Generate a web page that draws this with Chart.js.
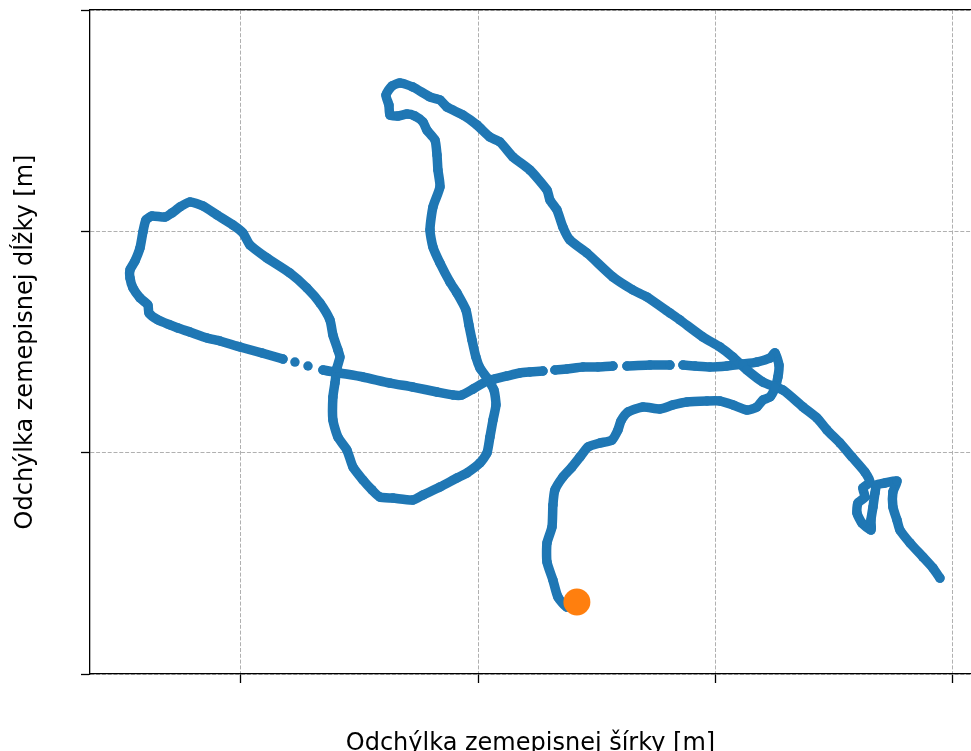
<!DOCTYPE html>
<html lang="sk">
<head>
<meta charset="utf-8">
<title>Trasa</title>
<script src="https://cdn.jsdelivr.net/npm/chart.js@4.4.1/dist/chart.umd.min.js"></script>
<style>
  html, body { margin: 0; padding: 0; background: #ffffff; overflow: hidden; }
  canvas { display: block; }
</style>
</head>
<body>
<canvas id="track" width="971" height="751"></canvas>
<script>
/* GPS trasa – odchýlky od počiatku v metroch */

const TRACK_X = [
  28.31, 27.47, 26.71, 26.29, 25.79, 25.79, 26.21, 26.29, 26.46, 27.13,
  27.89, 28.57, 29.24, 30.25, 31.26, 31.77, 32.02, 32.61, 33.88, 35.31,
  36.40, 37.58, 39.27, 40.36, 41.46, 42.64, 43.48, 43.99, 44.58, 45.00,
  45.25, 45.34, 45.00, 44.58, 43.48, 42.30, 40.95, 39.52, 38.26, 37.25,
  36.15, 34.47, 32.53, 31.35, 30.08, 28.82, 27.47, 26.46, 25.45, 24.35,
  23.51, 22.42, 21.40, 20.73, 19.55, 18.62, 17.86, 16.52, 14.49, 12.56,
  10.28, 8.34, 6.91, 5.65, 4.55, 3.54, 1.77, -0.08, -1.77, -2.87,
  -4.30, -5.31, -5.98, -6.99, -7.75, -7.84, -8.51, -9.10, -9.35, -9.35,
  -8.93, -8.51, -8.26, -8.01, -7.50, -6.40, -5.81, -5.14, -4.30, -3.20,
  -2.02, -0.67, 0.17, 0.76, 2.19, 4.13, 5.56, 6.66, 7.50, 7.75,
  8.17, 8.34, 8.09, 7.92, 7.75, 7.75, 8.17, 8.93, 9.44, 10.28,
  11.04, 11.71, 12.81, 14.49, 15.34, 16.77, 18.20, 19.04, 20.14, 20.73,
  20.98, 21.24, 21.49, 21.32, 20.73, 20.14, 19.80, 19.47, 19.21, 18.96,
  18.20, 17.61, 16.77, 16.18, 15.93, 16.18, 16.77, 16.60, 16.52, 16.35,
  15.67, 15.34, 14.66, 13.99, 13.23, 12.56, 12.47, 12.22, 12.72, 13.40,
  14.49, 15.93, 16.77, 17.36, 18.71, 19.89, 20.98, 21.83, 22.92, 24.35,
  25.79, 26.04, 26.63, 27.13, 27.72, 29.16, 31.35, 33.03, 34.21, 36.15,
  36.99, 38.93, 40.36, 41.46, 42.64, 43.99, 45.67, 47.36, 48.54, 49.38,
  50.48, 51.49, 52.58, 53.00, 52.41, 52.58, 51.99, 51.91, 52.33, 53.09,
  53.09, 53.26, 53.43, 53.59, 54.27, 55.28, 54.94, 54.94, 55.28, 55.53,
  56.38, 57.47, 58.31, 58.90,
];

const TRACK_Y = [
  6.51, 6.05, 6.96, 8.49, 10.12, 11.84, 13.28, 15.27, 16.63, 17.80,
  18.70, 19.61, 20.51, 20.87, 21.14, 22.05, 22.86, 23.67, 24.13, 23.95,
  24.31, 24.58, 24.67, 24.67, 24.31, 23.85, 24.13, 24.76, 25.03, 25.84,
  26.84, 27.92, 29.01, 28.55, 28.19, 28.01, 27.83, 27.74, 27.83, 27.92,
  27.92, 27.92, 27.83, 27.83, 27.74, 27.74, 27.56, 27.47, 27.38, 27.29,
  27.20, 26.93, 26.66, 26.48, 25.75, 25.21, 25.21, 25.48, 25.93, 26.29,
  26.84, 27.20, 27.47, 27.83, 28.19, 28.46, 29.01, 29.55, 30.09, 30.36,
  30.90, 31.26, 31.54, 31.99, 32.62, 33.34, 33.98, 34.88, 35.78, 36.51,
  37.32, 38.49, 39.94, 41.02, 41.38, 41.29, 41.66, 42.20, 42.65, 42.29,
  41.48, 40.57, 39.85, 38.76, 37.59, 36.23, 34.88, 33.52, 31.99, 30.63,
  29.28, 28.64, 27.65, 26.29, 25.03, 22.95, 21.41, 20.24, 18.70, 17.53,
  16.63, 15.99, 15.90, 15.72, 16.17, 16.90, 17.71, 18.16, 19.07, 19.97,
  21.41, 22.95, 24.31, 25.66, 26.75, 27.65, 28.64, 30.18, 31.54, 32.89,
  34.43, 35.42, 37.14, 38.58, 40.12, 42.20, 44.01, 45.54, 46.90, 48.25,
  49.15, 49.88, 50.42, 50.60, 50.42, 50.51, 51.41, 52.32, 53.13, 53.40,
  53.04, 52.14, 51.87, 51.23, 50.51, 49.61, 48.52, 48.07, 46.72, 45.54,
  43.73, 42.83, 41.93, 40.39, 39.22, 38.04, 35.87, 34.70, 34.07, 32.62,
  31.99, 30.45, 29.55, 28.64, 27.47, 26.38, 25.66, 24.13, 23.13, 22.05,
  20.87, 19.61, 18.25, 17.35, 16.81, 15.99, 15.45, 14.55, 13.64, 13.01,
  13.92, 15.09, 16.36, 17.08, 17.26, 17.44, 16.45, 15.09, 13.92, 13.01,
  11.84, 10.57, 9.58, 8.67,
];

// výpadky signálu: za týmito vzorkami chýba spojnica
const TRACK_BREAKS = [39, 42, 47, 62, 63, 64];

// aktuálna poloha
const END_X = [28.31];
const END_Y = [6.51];

const X_TICKS = [0, 20, 40, 60];
const Y_TICKS = [0, 20, 40, 60];

const COLORS = {
    track: '#1f77b4',
    end: '#ff7f0e',
    grid: '#b0b0b0',
    axis: '#000000',
};

Chart.defaults.font.family = "'DejaVu Sans', sans-serif";
Chart.defaults.color = '#000000';

function toPoints(xs, ys) {
    return xs.map((x, i) => ({ x, y: ys[i] }));
}

function fixedTicks(values) {
    return (scale) => { scale.ticks = values.map((v) => ({ value: v })); };
}

const axisBorder = { display: true, color: COLORS.axis, width: 1.3, dash: [4, 1.8] };
const axisGrid = {
    color: COLORS.grid,
    lineWidth: 1,
    drawTicks: true,
    tickLength: 9,
    tickColor: COLORS.axis,
    tickWidth: 1.3,
    tickBorderDash: [],
};

new Chart(document.getElementById('track'), {
    type: 'scatter',
    data: {
        datasets: [
            {
                label: 'Trasa',
                data: toPoints(TRACK_X, TRACK_Y),
                showLine: true,
                borderColor: COLORS.track,
                backgroundColor: COLORS.track,
                borderWidth: 9.5,
                borderCapStyle: 'round',
                borderJoinStyle: 'round',
                pointRadius: 4.75,
                pointBorderWidth: 0,
                tension: 0.2,
                order: 2,
                segment: {
                    borderColor: (ctx) => TRACK_BREAKS.includes(ctx.p0DataIndex) ? 'rgba(0,0,0,0)' : COLORS.track,
                },
            },
            {
                label: 'Poloha',
                data: toPoints(END_X, END_Y),
                backgroundColor: COLORS.end,
                borderWidth: 0,
                pointRadius: 13.5,
                order: 1,
            },
        ],
    },
    options: {
        responsive: false,
        animation: false,
        events: [],
        layout: { autoPadding: false, padding: { top: 10, left: 0, right: 0, bottom: 0 } },
        plugins: {
            legend: { display: false },
            tooltip: { enabled: false },
        },
        scales: {
            x: {
                type: 'linear',
                position: 'bottom',
                min: -12.72,
                max: 61.52,
                afterBuildTicks: fixedTicks(X_TICKS),
                afterFit: (s) => { s.height = 77; },
                ticks: { display: false },
                grid: axisGrid,
                border: axisBorder,
                title: {
                    display: true,
                    text: 'Odchýlka zemepisnej šírky [m]',
                    color: '#000000',
                    font: { size: 24, lineHeight: 0.5 },
                    padding: { top: 0, bottom: 1.5 },
                },
            },
            xTop: {
                type: 'linear',
                position: 'top',
                z: 1,
                min: -12.72,
                max: 61.52,
                afterBuildTicks: (s) => { s.ticks = []; },
                afterFit: (s) => { s.height = 0; },
                ticks: { display: false },
                grid: { display: false, drawTicks: false },
                border: { display: true, color: COLORS.axis, width: 1.3 },
            },
            y: {
                type: 'linear',
                position: 'left',
                min: 0,
                max: 60,
                afterBuildTicks: fixedTicks(Y_TICKS),
                afterFit: (s) => { s.width = 90; },
                ticks: { display: false },
                grid: axisGrid,
                border: axisBorder,
                title: {
                    display: true,
                    text: 'Odchýlka zemepisnej dĺžky [m]',
                    color: '#000000',
                    font: { size: 24, lineHeight: 1 },
                    padding: { top: 14, bottom: 0 },
                },
            },
        },
    },
});
</script>
</body>
</html>
